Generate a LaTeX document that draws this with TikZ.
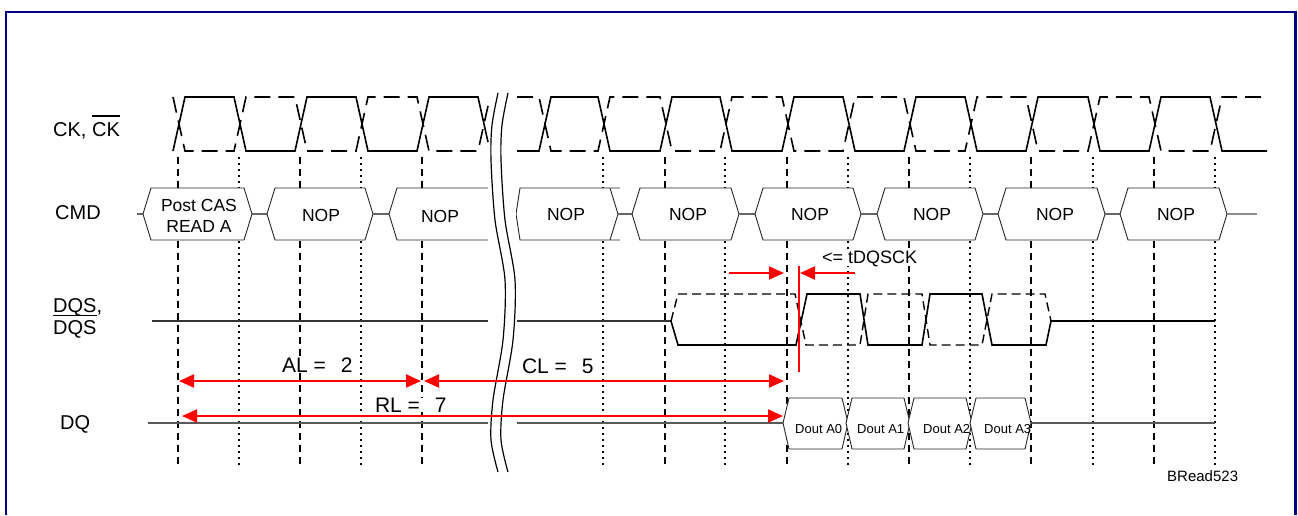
\documentclass[tikz,border=0pt]{standalone}
\usepackage{fontspec}
\setmainfont{Liberation Sans}
\usetikzlibrary{arrows.meta}
\definecolor{framec}{RGB}{0,0,128}
\definecolor{sigred}{RGB}{255,0,0}
\newcommand\ovtxt[2]{\setbox0=\hbox{#2}\hbox{\rlap{\rule[\dimexpr\ht0+#1\relax]{\wd0}{1.2pt}}\box0}}
\newcommand\cmdbox[2]{\draw[cbox] (#1,214) -- ({#1+8},188) -- ({#2-8},188) -- (#2,214) -- ({#2-8},240) -- ({#1+8},240) -- cycle;}
\newcommand\doutbox[2]{\draw[dbox] ({#1-2},423) -- ({#1+4},398) -- ({#2-4},398) -- ({#2+2},423) -- ({#2-4},449) -- ({#1+4},449) -- cycle;}
\begin{document}
\begin{tikzpicture}[x=1pt,y=-1pt,
  ck/.style={line width=1.6pt, line join=miter},
  ckb/.style={line width=1.6pt, dash pattern=on 16pt off 8pt},
  gdash/.style={line width=1.2pt, dash pattern=on 7pt off 5pt},
  gdot/.style={line width=1.2pt, dash pattern=on 2pt off 4pt},
  cbox/.style={line width=0.9pt, draw=black!85, fill=white},
  dbox/.style={line width=0.9pt, draw=black!85, fill=white},
  conn/.style={line width=1.3pt, draw=black!60},
  flat/.style={line width=1.4pt, draw=black!80},
  dqs/.style={line width=1.6pt},
  dqsb/.style={line width=1.4pt, dash pattern=on 9pt off 5pt},
  brk/.style={line width=1.2pt},
  redarr/.style={line width=2pt, draw=sigred, {Triangle[length=15pt,width=13pt]}-{Triangle[length=15pt,width=13pt]}},
  redone/.style={line width=2pt, draw=sigred, -{Triangle[length=15pt,width=13pt]}},
  lbl/.style={inner sep=0pt, anchor=base west, font=\fontsize{20}{24}\selectfont},
  tlbl/.style={inner sep=0pt, anchor=base west, fill=white, outer sep=0pt, font=\fontsize{21}{25}\selectfont},
  boxtxt/.style={inner sep=0pt, font=\fontsize{17.5}{21}\selectfont, align=center},
  small/.style={inner sep=0pt, anchor=base west, font=\fontsize{13}{15}\selectfont}
]
\useasboundingbox (0,0) rectangle (1298,515);
\draw[framec, line width=2.3pt] (6,515) -- (6,12) -- (1295.5,12) -- (1295.5,515);

% grid lines
\foreach \x in {178,300,422,665,787,909,1031,1154} \draw[gdash] (\x,157) -- (\x,467);
\foreach \x in {239,361,603,725,848,970,1093,1215} \draw[gdot] (\x,157) -- (\x,467);

% clock, left part
\draw[ck] (173,151) -- (185,97) -- (234,97) -- (246,151) -- (295,151) -- (307,97) -- (356,97) -- (368,151) -- (417,151) -- (429,97) -- (478,97) -- (488,142);
\draw[ckb] (173,97) -- (185,151) -- (234,151) -- (246,97) -- (295,97) -- (307,151) -- (356,151) -- (368,97) -- (417,97) -- (429,151) -- (478,151) -- (488,106);
% clock, right part
\draw[ck] (517,151) -- (539,151) -- (551,97) -- (598,97) -- (610,151) -- (660,151) -- (672,97) -- (720,97) -- (732,151) -- (782,151) -- (794,97) -- (843,97) -- (855,151) -- (904,151) -- (916,97) -- (965,97) -- (977,151) -- (1026,151) -- (1038,97) -- (1088,97) -- (1100,151) -- (1149,151) -- (1161,97) -- (1210,97) -- (1222,151) -- (1267,151);
\draw[ckb] (517,97) -- (539,97) -- (551,151) -- (598,151) -- (610,97) -- (660,97) -- (672,151) -- (720,151) -- (732,97) -- (782,97) -- (794,151) -- (843,151) -- (855,97) -- (904,97) -- (916,151) -- (965,151) -- (977,97) -- (1026,97) -- (1038,151) -- (1088,151) -- (1100,97) -- (1149,97) -- (1161,151) -- (1210,151) -- (1222,97) -- (1262,97);

% CMD row
\draw[conn] (137,214) -- (143,214);
\cmdbox{143}{252}
\draw[conn] (252,214) -- (267,214);
\cmdbox{267}{373}
\draw[conn] (373,214) -- (389,214);
\draw[cbox] (488,188) -- (397,188) -- (389,214) -- (397,240) -- (488,240);
\draw[cbox] (620,188) -- (520,188) -- (516,214) -- (520,240) -- (620,240);
\draw[cbox] (610,188) -- (618,214) -- (610,240);
\draw[conn] (618,214) -- (632,214);
\cmdbox{632}{739}
\draw[conn] (739,214) -- (755,214);
\cmdbox{755}{861}
\draw[conn] (861,214) -- (877,214);
\cmdbox{877}{983}
\draw[conn] (983,214) -- (998,214);
\cmdbox{998}{1105}
\draw[conn] (1105,214) -- (1120,214);
\cmdbox{1120}{1227}
\draw[conn, draw=black!45] (1227,214) -- (1257,214);

\node[boxtxt] (cmd0) at (199,215.5) {Post CAS\\READ A};
\node[boxtxt] (cmd1) at (321,215) {NOP};
\node[boxtxt] (cmd2) at (440,216) {NOP};
\node[boxtxt] (cmd3) at (566,214) {NOP};
\node[boxtxt] (cmd4) at (688,214) {NOP};
\node[boxtxt] (cmd5) at (810,214) {NOP};
\node[boxtxt] (cmd6) at (932,214) {NOP};
\node[boxtxt] (cmd7) at (1055,214) {NOP};
\node[boxtxt] (cmd8) at (1176,214) {NOP};

% DQS row
\draw[flat] (152,321) -- (488,321);
\draw[flat] (517,321) -- (671,321);
\draw[dqs] (671,321) -- (678,345) -- (796,345) -- (807,294) -- (860,294) -- (868,345) -- (922,345) -- (930,294) -- (982,294) -- (992,345) -- (1046,345) -- (1051,321) -- (1215,321);
\draw[dqsb] (671,321) -- (678,294) -- (795,294) -- (806,345) -- (860,345) -- (868,294) -- (922,294) -- (930,345) -- (982,345) -- (992,294) -- (1045,294) -- (1051,321);

% DQ row
\draw[flat, draw=black!65] (148,423) -- (488,423);
\draw[flat, draw=black!65] (517,423) -- (783,423);
\draw[flat, draw=black!65] (1031,423) -- (1215,423);
\doutbox{785}{846}
\doutbox{848}{908}
\doutbox{910}{970}
\doutbox{972}{1029}
\node[small] (d0) at (795,433) {Dout A0};
\node[small] (d1) at (857,433) {Dout A1};
\node[small] (d2) at (923,433) {Dout A2};
\node[small] (d3) at (984,433) {Dout A3};

% break
\fill[white] (489,85) rectangle (516,480);
\draw[brk] plot[smooth] coordinates {(498,93) (492,125) (491,160) (495,220) (505,280) (503,340) (493,400) (491,440) (498,472)};
\draw[brk] plot[smooth] coordinates {(508,93) (502,125) (501,160) (505,220) (515,280) (513,340) (503,400) (501,440) (508,472)};

% timing labels (white background hides grid lines)
\node[tlbl] (all) at (282,372) {AL =\hspace{15pt}2};
\node[tlbl] (cll) at (522,373) {CL =\hspace{15pt}5};
\node[tlbl] (rll) at (375,412) {RL =\hspace{15pt}7};
\node[inner sep=0pt, anchor=base west, fill=white, font=\fontsize{18}{21}\selectfont] (tql) at (822,263) {<= tDQSCK};

% timing arrows
\coordinate (alL) at (179,381);
\coordinate (alR) at (421,381);
\coordinate (clL) at (424,381);
\coordinate (clR) at (784,381);
\coordinate (rlL) at (182,416);
\coordinate (rlR) at (783,416);
\coordinate (tqA) at (729,273);
\coordinate (tqB) at (784,273);
\coordinate (tqC) at (855,273);
\coordinate (tqD) at (800,273);
\coordinate (tqT) at (799,266);
\coordinate (tqU) at (799,372);
\draw[redarr] (alL) -- (alR);
\draw[redarr] (clL) -- (clR);
\draw[redarr] (rlL) -- (rlR);
\draw[redone] (tqA) -- (tqB);
\draw[redone] (tqC) -- (tqD);
\draw[line width=2pt, draw=sigred] (tqT) -- (tqU);

% signal names
\node[lbl] (ckl) at (53,136) {CK, \ovtxt{5.5pt}{CK}};
\node[lbl] (cmdl) at (55,219) {CMD};
\node[lbl] (dqsl1) at (53,312) {DQS,};
\node[lbl] (dqsl2) at (53,334) {\ovtxt{3.7pt}{DQS}};
\node[lbl] (dql) at (60,429) {DQ};
\node[inner sep=0pt, anchor=base west, font=\fontsize{15}{18}\selectfont] (brl) at (1167,481) {BRead523};
\end{tikzpicture}
\end{document}
